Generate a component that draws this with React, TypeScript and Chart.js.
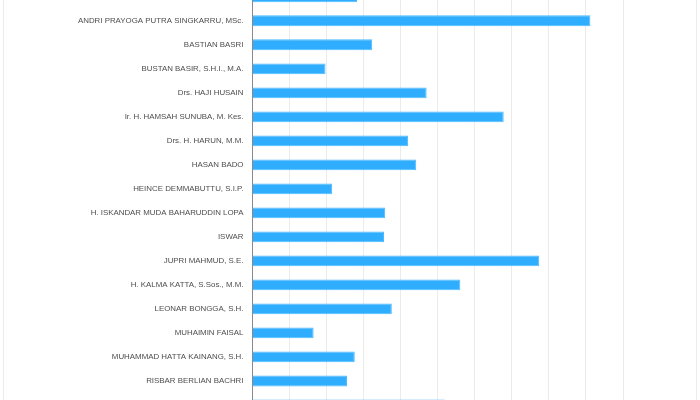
import React, { useEffect, useRef } from "react";
import { Chart, registerables } from "chart.js";

Chart.register(...registerables);

const candidates: string[] = [
  "ABDUL RAHMAN",
  "ANDRI PRAYOGA PUTRA SINGKARRU, MSc.",
  "BASTIAN BASRI",
  "BUSTAN BASIR, S.H.I., M.A.",
  "Drs. HAJI HUSAIN",
  "Ir. H. HAMSAH SUNUBA, M. Kes.",
  "Drs. H. HARUN, M.M.",
  "HASAN BADO",
  "HEINCE DEMMABUTTU, S.I.P.",
  "H. ISKANDAR MUDA BAHARUDDIN LOPA",
  "ISWAR",
  "JUPRI MAHMUD, S.E.",
  "H. KALMA KATTA, S.Sos., M.M.",
  "LEONAR BONGGA, S.H.",
  "MUHAIMIN FAISAL",
  "MUHAMMAD HATTA KAINANG, S.H.",
  "RISBAR BERLIAN BACHRI",
  "SYAMSUDDIN",
];

const votes: number[] = [
  2820, 9120, 3230, 1970, 4700, 6780, 4200, 4420, 2150, 3580, 3550, 7740,
  5610, 3760, 1650, 2760, 2550, 5190,
];

const xMin = 0;
const xMax = 10000;
const xStep = 1000;

export default function App() {
  const ref = useRef<HTMLCanvasElement | null>(null);

  useEffect(() => {
    if (!ref.current) return;
    const chart = new Chart(ref.current, {
      type: "bar",
      data: {
        labels: candidates,
        datasets: [
          {
            label: "Suara",
            data: votes,
            backgroundColor: "#2FAEFF",
            borderColor: "#4DB9FF",
            borderWidth: 1,
            barPercentage: 0.5,
            categoryPercentage: 0.9,
          },
        ],
      },
      options: {
        indexAxis: "y",
        animation: false,
        responsive: false,
        maintainAspectRatio: false,
        layout: { padding: { top: 0, right: 73, bottom: 0, left: 0 } },
        plugins: { legend: { display: false }, tooltip: { enabled: false } },
        scales: {
          x: {
            min: xMin,
            max: xMax,
            ticks: {
              stepSize: xStep,
              color: "#666",
              font: { family: "Arial, 'Liberation Sans', sans-serif", size: 8 },
            },
            grid: { color: "#ebebeb", drawTicks: false },
            border: { display: false },
            afterFit: (s: any) => {
              s.height = 30;
            },
          },
          y: {
            ticks: {
              color: "#4d4d4d",
              padding: 9,
              font: { family: "Arial, 'Liberation Sans', sans-serif", size: 7.9 },
            },
            grid: { display: false, drawTicks: false },
            border: { display: true, color: "#8a8a8a", width: 1 },
            afterFit: (s: any) => {
              s.width = 248.5;
            },
          },
        },
      },
    });
    return () => chart.destroy();
  }, []);

  return (
    <div
      style={{
        position: "absolute",
        top: -29,
        left: 3,
        width: 692,
        borderLeft: "1px solid #ececec",
        borderRight: "1px solid #ececec",
        background: "#fff",
      }}
    >
      <canvas ref={ref} width={692} height={476} style={{ display: "block" }} />
    </div>
  );
}
